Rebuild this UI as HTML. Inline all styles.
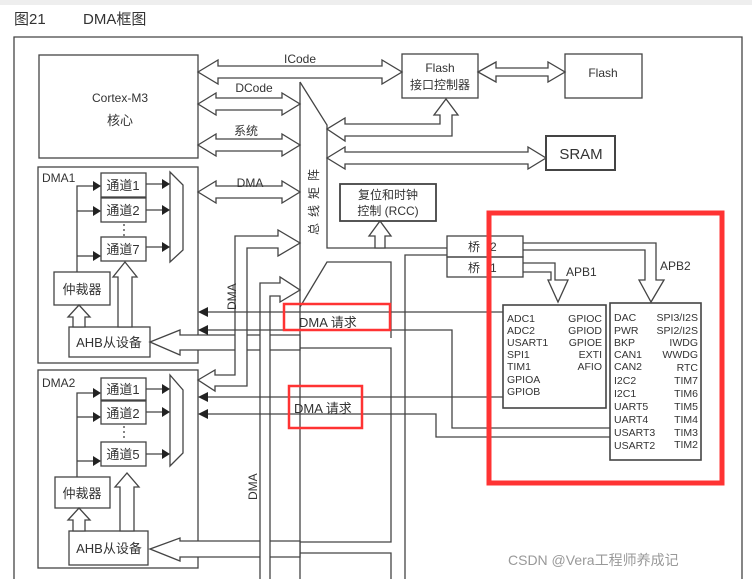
<!DOCTYPE html>
<html><head><meta charset="utf-8"><style>
body{margin:0;background:#fff;}
svg{display:block;font-family:"Liberation Sans","Noto Sans CJK SC",sans-serif;}
</style></head><body>
<svg width="752" height="579" viewBox="0 0 752 579" xmlns="http://www.w3.org/2000/svg">
<rect x="0" y="0" width="752" height="5" fill="#eee"/>
<text x="14" y="24" font-size="15" fill="#333">图21</text>
<text x="83" y="24" font-size="15" fill="#333">DMA框图</text>
<g fill="none" stroke="#444" stroke-width="1.3">
<polyline points="14,579 14,37 742,37 742,579"/>
<rect x="39" y="55" width="159" height="103"/>
<polygon points="198,72 218,60 218,66 382,66 382,60 402,72 382,84 382,78 218,78 218,84" fill="#fff"/>
<polygon points="198,104 216,93 216,98 282,98 282,93 300,104 282,115 282,110 216,110 216,115" fill="#fff"/>
<polygon points="198,145 216,134 216,139 282,139 282,134 300,145 282,156 282,151 216,151 216,156" fill="#fff"/>
<polygon points="198,192 216,181 216,186 282,186 282,181 300,192 282,203 282,198 216,198 216,203" fill="#fff"/>
<rect x="402" y="54" width="76" height="44"/>
<rect x="565" y="54" width="77" height="44"/>
<polygon points="478,72 496,62 496,68 548,68 548,62 565,72 548,82 548,76 496,76 496,82" fill="#fff"/>
<polyline points="300,82 327,125 327,248 447,248"/>
<line x1="300" y1="82" x2="300" y2="579"/>
<polyline points="300,307 327,262 391,262 391,338"/>
<polygon points="327,129 345,118 345,124 440,124 440,115 434,115 446,99 458,115 452,115 452,136 345,136 345,141" fill="#fff"/>
<polygon points="327,158 345,147 345,152 528,152 528,147 546,158 528,169 528,164 345,164 345,169" fill="#fff"/>
<rect x="546" y="136" width="69" height="34" stroke-width="2"/>
<rect x="340" y="184" width="96" height="37" stroke-width="1.8"/>
<polygon points="375,248 375,236 369,236 380,221 391,236 385,236 385,248" fill="#fff"/>
<rect x="447" y="236" width="76" height="21"/>
<rect x="447" y="257" width="76" height="20"/>
<polyline points="523,243 656,243 656,280 664,280 651,302 639,280 645,280 645,250 523,250"/>
<polyline points="523,263 555,263 555,280 568,280 558,302 548,280 551,280 551,272 523,272"/>
<polyline points="447,255 405,255 405,579"/>
<rect x="503" y="305" width="103" height="103" stroke-width="1.6"/>
<rect x="610" y="303" width="91" height="157" stroke-width="1.6"/>
<polyline points="270,348 391,348 391,542 270,542"/>
<polyline points="270,553 391,553 391,579"/>
<!-- DMA1 -->
<rect x="38" y="167" width="160" height="196"/>
<rect x="101" y="173" width="45" height="24"/>
<rect x="101" y="198" width="45" height="24"/>
<rect x="101" y="237" width="45" height="24"/>
<line x1="124" y1="224" x2="124" y2="236" stroke-dasharray="2,3"/>
<polygon points="170,172 183,185 183,250 170,262" fill="#fff"/>
<line x1="146" y1="184" x2="163" y2="184"/><line x1="146" y1="210" x2="163" y2="210"/><line x1="146" y1="247" x2="163" y2="247"/>
<polyline points="77,272 77,186 93,186"/><line x1="77" y1="211" x2="93" y2="211"/><line x1="77" y1="256" x2="93" y2="256"/>
<rect x="54" y="272" width="56" height="33"/>
<rect x="69" y="327" width="81" height="30"/>
<polygon points="73,327 73,317 68,317 79,305 90,317 85,317 85,327" fill="#fff"/>
<polygon points="118,327 118,277 113,277 125,262 137,277 132,277 132,327" fill="#fff"/>
<polygon points="150,342 180,330 180,335 300,335 300,350 180,350 180,355" fill="#fff"/>
<!-- DMA2 -->
<rect x="38" y="370" width="160" height="198"/>
<rect x="101" y="378" width="45" height="22"/>
<rect x="101" y="401" width="45" height="23"/>
<rect x="101" y="442" width="45" height="24"/>
<line x1="124" y1="426" x2="124" y2="440" stroke-dasharray="2,3"/>
<polygon points="170,375 183,390 183,453 170,466" fill="#fff"/>
<line x1="146" y1="389" x2="163" y2="389"/><line x1="146" y1="412" x2="163" y2="412"/><line x1="146" y1="454" x2="163" y2="454"/>
<polyline points="77,477 77,393 93,393"/><line x1="77" y1="417" x2="93" y2="417"/><line x1="77" y1="461" x2="93" y2="461"/>
<rect x="55" y="477" width="55" height="31"/>
<rect x="69" y="531" width="79" height="34"/>
<polygon points="73,531 73,520 68,520 79,508 90,520 85,520 85,531" fill="#fff"/>
<polygon points="120,531 120,487 115,487 127,473 139,487 134,487 134,531" fill="#fff"/>
<polygon points="150,549 180,538 180,541 300,541 300,557 180,557 180,561" fill="#fff"/>
<!-- DMA hollow arrows -->
<polygon points="198,380 215,370 215,375 235,375 235,236 278,236 278,230 300,243 278,256 278,248 247,248 247,386 215,386 215,391" fill="#fff"/>
<path d="M260,579 L260,283 L280,283 L280,277 L300,290 L280,302 L280,296 L270,296 L270,579" fill="#fff"/>
<!-- DMA request lines -->
<line x1="206" y1="312" x2="503" y2="312"/>
<polyline points="206,330 452,330 452,428 610,428"/>
<line x1="206" y1="397" x2="503" y2="397"/>
<polyline points="206,414 436,414 436,437 610,437"/>
</g>
<g fill="#222">
<polygon points="198,312 208,307 208,317"/><polygon points="198,330 208,325 208,335"/>
<polygon points="198,397 208,392 208,402"/><polygon points="198,414 208,409 208,419"/>
<polygon points="170,184 162,179 162,189"/><polygon points="170,210 162,205 162,215"/><polygon points="170,247 162,242 162,252"/>
<polygon points="101,186 93,181 93,191"/><polygon points="101,211 93,206 93,216"/><polygon points="101,256 93,251 93,261"/>
<polygon points="170,389 162,384 162,394"/><polygon points="170,412 162,407 162,417"/><polygon points="170,454 162,449 162,459"/>
<polygon points="101,393 93,388 93,398"/><polygon points="101,417 93,412 93,422"/><polygon points="101,461 93,456 93,466"/>
</g>
<g font-size="12" fill="#333">
<text x="120" y="102" text-anchor="middle">Cortex-M3</text>
<text x="120" y="125" text-anchor="middle" font-size="13">核心</text>
<text x="300" y="63" text-anchor="middle">ICode</text>
<text x="254" y="92" text-anchor="middle">DCode</text>
<text x="246" y="135" text-anchor="middle">系统</text>
<text x="250" y="187" text-anchor="middle">DMA</text>
<text x="440" y="72" text-anchor="middle">Flash</text>
<text x="440" y="89" text-anchor="middle">接口控制器</text>
<text x="603" y="77" text-anchor="middle">Flash</text>
<text x="581" y="159" text-anchor="middle" font-size="15">SRAM</text>
<text x="388" y="199" text-anchor="middle">复位和时钟</text>
<text x="388" y="215" text-anchor="middle">控制 (RCC)</text>
<text x="468" y="251">桥</text><text x="490" y="251">2</text>
<text x="468" y="272">桥</text><text x="490" y="272">1</text>
<text x="566" y="276">APB1</text>
<text x="660" y="270">APB2</text>
<text x="42" y="182">DMA1</text>
<text x="42" y="387">DMA2</text>
<g font-size="13" text-anchor="middle">
<text x="123" y="190">通道1</text>
<text x="123" y="215">通道2</text>
<text x="123" y="254">通道7</text>
<text x="82" y="294">仲裁器</text>
<text x="109" y="347">AHB从设备</text>
<text x="123" y="394">通道1</text>
<text x="123" y="418">通道2</text>
<text x="123" y="459">通道5</text>
<text x="82" y="498">仲裁器</text>
<text x="109" y="553">AHB从设备</text>
</g>
<text transform="translate(236,310) rotate(-90)">DMA</text>
<text transform="translate(257,500) rotate(-90)">DMA</text>
<text transform="translate(318,235) rotate(-90)" letter-spacing="6">总线矩阵</text>
<text x="299" y="327" font-size="13">DMA  请求</text>
<text x="294" y="413" font-size="13">DMA 请求</text>
</g>
<g font-size="10.5" fill="#333">
<text x="507" y="322">ADC1</text><text x="507" y="334">ADC2</text><text x="507" y="346">USART1</text><text x="507" y="358">SPI1</text><text x="507" y="370">TIM1</text><text x="507" y="383">GPIOA</text><text x="507" y="395">GPIOB</text>
<g text-anchor="end"><text x="602" y="322">GPIOC</text><text x="602" y="334">GPIOD</text><text x="602" y="346">GPIOE</text><text x="602" y="358">EXTI</text><text x="602" y="370">AFIO</text></g>
<text x="614" y="321">DAC</text><text x="614" y="334">PWR</text><text x="614" y="346">BKP</text><text x="614" y="358">CAN1</text><text x="614" y="370">CAN2</text><text x="614" y="384">I2C2</text><text x="614" y="397">I2C1</text><text x="614" y="410">UART5</text><text x="614" y="423">UART4</text><text x="614" y="436">USART3</text><text x="614" y="449">USART2</text>
<g text-anchor="end"><text x="698" y="321">SPI3/I2S</text><text x="698" y="334">SPI2/I2S</text><text x="698" y="346">IWDG</text><text x="698" y="358">WWDG</text><text x="698" y="371">RTC</text><text x="698" y="384">TIM7</text><text x="698" y="397">TIM6</text><text x="698" y="410">TIM5</text><text x="698" y="423">TIM4</text><text x="698" y="436">TIM3</text><text x="698" y="448">TIM2</text></g>
</g>
<g fill="none" stroke="#f33">
<rect x="489" y="213" width="233" height="270" stroke-width="5"/>
<rect x="284" y="304" width="106" height="26" stroke-width="2.5"/>
<rect x="289" y="386" width="73" height="42" stroke-width="2.5"/>
</g>
<text x="508" y="565" font-size="14" fill="#999">CSDN @Vera工程师养成记</text>
</svg>
</body></html>
